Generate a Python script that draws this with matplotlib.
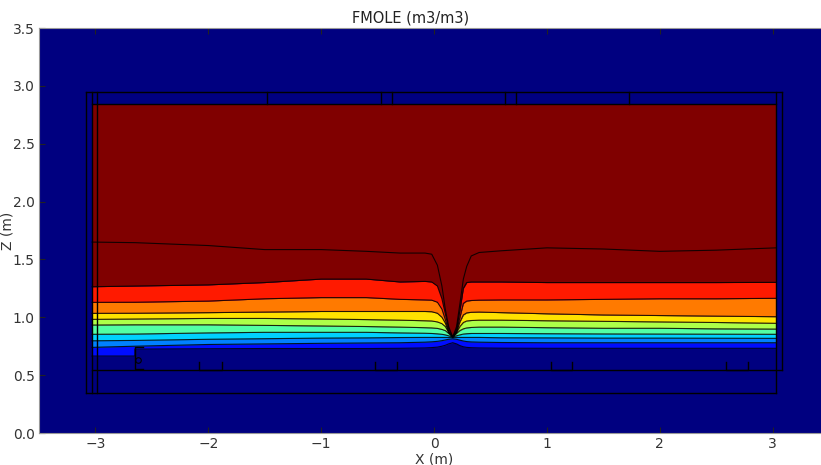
import numpy as np
import matplotlib
matplotlib.use('Agg')
import matplotlib.pyplot as plt

# contour boundaries, bottom (b0) to top (b9), at x_pts
x_pts = [-3.03, -2.65, -2.65, -2.0, -1.5, -1.0, -0.6, -0.3,
         -0.08, -0.02, 0.03, 0.07, 0.1, 0.13, 0.166, 0.2, 0.23, 0.26, 0.29, 0.33, 0.4,
         0.6, 1.0, 1.5, 2.0, 2.5, 3.03]
b0 = [0.665, 0.665, 0.725, 0.728, 0.73, 0.73, 0.73, 0.732,
      0.735, 0.738, 0.742, 0.75, 0.758, 0.77, 0.78, 0.77, 0.755, 0.745, 0.74, 0.737, 0.735,
      0.733, 0.732, 0.732, 0.732, 0.732, 0.732]
b1 = [0.74, 0.75, 0.75, 0.765, 0.77, 0.775, 0.778, 0.78,
      0.785, 0.788, 0.792, 0.798, 0.804, 0.81, 0.815, 0.81, 0.802, 0.795, 0.79, 0.787, 0.785,
      0.782, 0.78, 0.78, 0.78, 0.78, 0.78]
b2 = [0.797, 0.80, 0.80, 0.81, 0.815, 0.82, 0.822, 0.825,
      0.826, 0.826, 0.826, 0.826, 0.826, 0.826, 0.826, 0.826, 0.826, 0.826, 0.826, 0.826, 0.826,
      0.823, 0.822, 0.82, 0.82, 0.819, 0.818]
b3 = [0.853, 0.855, 0.855, 0.865, 0.87, 0.87, 0.87, 0.865,
      0.862, 0.86, 0.857, 0.853, 0.848, 0.84, 0.83, 0.84, 0.848, 0.855, 0.858, 0.86, 0.86,
      0.86, 0.858, 0.856, 0.855, 0.854, 0.853]
b4 = [0.933, 0.935, 0.935, 0.935, 0.93, 0.925, 0.92, 0.915,
      0.91, 0.908, 0.904, 0.895, 0.885, 0.86, 0.83, 0.86, 0.885, 0.9, 0.908, 0.912, 0.915,
      0.915, 0.91, 0.905, 0.905, 0.90, 0.898]
b5 = [0.982, 0.985, 0.985, 0.99, 0.99, 0.985, 0.98, 0.975,
      0.97, 0.968, 0.96, 0.945, 0.92, 0.87, 0.83, 0.87, 0.92, 0.955, 0.968, 0.972, 0.975,
      0.975, 0.97, 0.965, 0.96, 0.955, 0.948]
b6 = [1.034, 1.035, 1.035, 1.04, 1.045, 1.05, 1.05, 1.05,
      1.05, 1.048, 1.035, 1.0, 0.95, 0.87, 0.83, 0.87, 0.96, 1.02, 1.038, 1.043, 1.045,
      1.04, 1.03, 1.02, 1.015, 1.01, 1.005]
b7 = [1.129, 1.13, 1.13, 1.14, 1.16, 1.17, 1.17, 1.155,
      1.15, 1.148, 1.13, 1.07, 0.98, 0.88, 0.83, 0.88, 1.0, 1.12, 1.14, 1.145, 1.148,
      1.15, 1.15, 1.155, 1.16, 1.16, 1.164]
b8 = [1.264, 1.27, 1.27, 1.28, 1.30, 1.33, 1.33, 1.305,
      1.31, 1.305, 1.27, 1.16, 1.03, 0.9, 0.83, 0.9, 1.06, 1.25, 1.30, 1.305, 1.305,
      1.305, 1.30, 1.30, 1.30, 1.30, 1.302]
b9 = [1.65, 1.645, 1.645, 1.62, 1.585, 1.585, 1.57, 1.555,
      1.555, 1.545, 1.45, 1.27, 1.07, 0.92, 0.83, 0.92, 1.12, 1.33, 1.44, 1.53, 1.56,
      1.575, 1.60, 1.59, 1.57, 1.58, 1.60]
data_top = 2.843

# band colours (jet positions) from the lowest band to the top one
band_vals = [0.14, 0.25, 0.33, 0.45, 0.56, 0.67, 0.78, 0.88, 1.0]

# mesh / geometry outline
vlines_x = [-3.08, -3.03, -2.99, 3.03]
vlines_y0 = [0.35, 0.35, 0.35, 0.35]
vlines_y1 = [2.947, 2.947, 2.947, 2.947]
hlines_y = [2.947, 2.843, 0.545, 0.35]
hlines_x0 = [-3.08, -3.03, -3.03, -3.08]
hlines_x1 = [3.085, 3.03, 3.085, 3.03]
strip_x = [-1.48, -0.47, -0.372, 0.629, 0.727, 1.729]
u_left = [-2.08, -0.523, 1.035, 2.59]
u_right = [-1.88, -0.331, 1.226, 2.78]

fig = plt.figure(figsize=(8.21, 4.65), dpi=100)
ax = fig.add_axes([39/821, 32/465, 790/821, 405/465])
ax.set_facecolor(plt.cm.jet(0.0))

bounds = [b0, b1, b2, b3, b4, b5, b6, b7, b8]
tops = bounds[1:] + [[data_top]*len(x_pts)]
for lo, hi, v in zip(bounds, tops, band_vals):
    ax.fill_between(x_pts, lo, hi, color=plt.cm.jet(v), lw=0)
for b in bounds + [b9]:
    ax.plot(x_pts, b, color='k', lw=0.8, alpha=0.85)

lc = dict(color='k', lw=1.0)
for x, y0, y1 in zip(vlines_x, vlines_y0, vlines_y1):
    ax.plot([x, x], [y0, y1], **lc)
ax.plot([3.085, 3.085], [0.545, 2.947], **lc)
for y, x0, x1 in zip(hlines_y, hlines_x0, hlines_x1):
    ax.plot([x0, x1], [y, y], **lc)
for x in strip_x:
    ax.plot([x, x], [2.843, 2.947], **lc)
for xl, xr in zip(u_left, u_right):
    ax.plot([xl, xl, xr, xr], [0.616, 0.545, 0.545, 0.616], **lc)
# small bracket on the left
ax.plot([-2.58, -2.65, -2.65, -2.58], [0.74, 0.74, 0.55, 0.55], **lc)
ax.plot([-2.62], [0.63], 'o', mfc='none', mec='k', ms=4, mew=0.8)

ax.set_xlim(-3.5, 3.5)
ax.set_ylim(0, 3.5)
ax.set_xticks([-3, -2, -1, 0, 1, 2, 3])
ax.set_xticklabels(['\u22123', '\u22122', '\u22121', '0', '1', '2', '3'])
ax.set_yticks(np.arange(0, 3.51, 0.5))
ax.set_yticklabels(['%.1f' % v for v in np.arange(0, 3.51, 0.5)])
ax.tick_params(direction='in', top=True, right=True, labelsize=10,
               labelcolor='#333333', color='#222222', length=4, pad=3)
for s in ax.spines.values():
    s.set_color('#999999')
ax.set_xlabel('X (m)', fontsize=10, color='#333333', labelpad=1)
ax.set_ylabel('Z (m)', fontsize=10, color='#333333')
ax.yaxis.set_label_coords(-0.031, 0.5)
fig.suptitle('FMOLE (m3/m3)', fontsize=10.5, color='#222222', y=0.978)

fig.savefig('out.png', dpi=100)
